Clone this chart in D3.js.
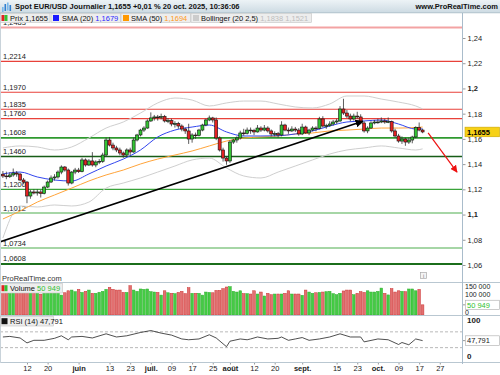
<!DOCTYPE html>
<html><head><meta charset="utf-8">
<script src="https://cdn.jsdelivr.net/npm/d3@7"></script>
<style>body{margin:0;background:#fff}svg{display:block;font-family:"Liberation Sans",Arial,sans-serif}</style>
</head><body><svg id="c" width="500" height="375"></svg>
<script>
// ---------- DATA ----------
// daily candles, one per trading day from 1 May 2025 (index 0) : [open, high, low, close]
const candles = [
[1.1320,1.1345,1.1290,1.1306],[1.1306,1.1340,1.1280,1.1300],[1.1300,1.1335,1.1290,1.1314],[1.1314,1.1365,1.1300,1.1329],
[1.1329,1.1345,1.1300,1.1321],[1.1321,1.1330,1.1265,1.1274],[1.1274,1.1290,1.1240,1.1258],[1.1258,1.1265,1.1090,1.1147],
[1.1147,1.1195,1.1125,1.1179],[1.1179,1.1200,1.1160,1.1171],[1.1171,1.1200,1.1150,1.1179],[1.1179,1.1195,1.1135,1.1168],
[1.1168,1.1230,1.1160,1.1218],[1.1218,1.1270,1.1210,1.1258],[1.1258,1.1310,1.1250,1.1290],[1.1290,1.1320,1.1270,1.1298],
[1.1298,1.1350,1.1285,1.1337],[1.1337,1.1390,1.1320,1.1377],[1.1377,1.1385,1.1340,1.1353],[1.1353,1.1365,1.1230,1.1250],
[1.1250,1.1345,1.1240,1.1337],[1.1337,1.1370,1.1320,1.1353],[1.1353,1.1370,1.1330,1.1340],[1.1340,1.1450,1.1335,1.1433],
[1.1433,1.1445,1.1380,1.1393],[1.1393,1.1440,1.1385,1.1425],[1.1425,1.1495,1.1380,1.1393],[1.1393,1.1430,1.1375,1.1417],
[1.1417,1.1440,1.1400,1.1422],[1.1422,1.1490,1.1410,1.1472],[1.1472,1.1610,1.1465,1.1591],[1.1591,1.1615,1.1540,1.1551],
[1.1551,1.1570,1.1510,1.1528],[1.1528,1.1545,1.1495,1.1512],[1.1512,1.1530,1.1470,1.1488],[1.1488,1.1500,1.1450,1.1472],
[1.1472,1.1525,1.1460,1.1512],[1.1512,1.1530,1.1470,1.1496],[1.1496,1.1610,1.1490,1.1591],[1.1591,1.1640,1.1580,1.1631],
[1.1631,1.1680,1.1620,1.1670],[1.1670,1.1700,1.1655,1.1686],[1.1686,1.1755,1.1680,1.1742],[1.1742,1.1810,1.1735,1.1766],
[1.1766,1.1790,1.1745,1.1774],[1.1774,1.1790,1.1745,1.1770],[1.1770,1.1800,1.1755,1.1778],[1.1778,1.1790,1.1730,1.1742],
[1.1742,1.1765,1.1725,1.1745],[1.1745,1.1760,1.1700,1.1718],[1.1718,1.1740,1.1690,1.1722],[1.1722,1.1735,1.1680,1.1702],
[1.1702,1.1715,1.1660,1.1678],[1.1678,1.1690,1.1640,1.1663],[1.1663,1.1720,1.1560,1.1599],[1.1599,1.1645,1.1570,1.1631],
[1.1631,1.1650,1.1600,1.1628],[1.1628,1.1680,1.1620,1.1670],[1.1670,1.1720,1.1660,1.1710],[1.1710,1.1760,1.1700,1.1750],
[1.1750,1.1785,1.1740,1.1766],[1.1766,1.1775,1.1730,1.1750],[1.1750,1.1770,1.1590,1.1607],[1.1607,1.1620,1.1500,1.1512],
[1.1512,1.1530,1.1420,1.1448],[1.1448,1.1460,1.1395,1.1425],[1.1425,1.1590,1.1410,1.1575],[1.1575,1.1600,1.1560,1.1591],
[1.1591,1.1620,1.1570,1.1607],[1.1607,1.1665,1.1595,1.1647],[1.1647,1.1680,1.1625,1.1644],[1.1644,1.1690,1.1635,1.1670],
[1.1670,1.1690,1.1640,1.1668],[1.1668,1.1680,1.1630,1.1655],[1.1655,1.1710,1.1650,1.1686],[1.1686,1.1700,1.1655,1.1670],
[1.1670,1.1710,1.1660,1.1686],[1.1686,1.1700,1.1650,1.1663],[1.1663,1.1675,1.1620,1.1639],[1.1639,1.1660,1.1620,1.1642],
[1.1642,1.1655,1.1610,1.1631],[1.1631,1.1740,1.1620,1.1710],[1.1710,1.1720,1.1660,1.1670],[1.1670,1.1690,1.1640,1.1663],
[1.1663,1.1700,1.1655,1.1678],[1.1678,1.1695,1.1655,1.1670],[1.1670,1.1685,1.1625,1.1639],[1.1639,1.1720,1.1630,1.1694],
[1.1694,1.1705,1.1640,1.1647],[1.1647,1.1680,1.1630,1.1670],[1.1670,1.1700,1.1660,1.1686],[1.1686,1.1700,1.1660,1.1683],
[1.1683,1.1775,1.1675,1.1758],[1.1758,1.1780,1.1690,1.1702],[1.1702,1.1720,1.1680,1.1705],[1.1705,1.1740,1.1695,1.1718],
[1.1718,1.1750,1.1705,1.1734],[1.1734,1.1760,1.1720,1.1742],[1.1742,1.1860,1.1735,1.1837],[1.1837,1.1918,1.1790,1.1805],
[1.1805,1.1830,1.1765,1.1781],[1.1781,1.1800,1.1740,1.1758],[1.1758,1.1800,1.1745,1.1781],[1.1781,1.1815,1.1760,1.1774],
[1.1774,1.1795,1.1715,1.1726],[1.1726,1.1740,1.1650,1.1663],[1.1663,1.1700,1.1645,1.1686],[1.1686,1.1740,1.1680,1.1726],
[1.1726,1.1750,1.1715,1.1734],[1.1730,1.1760,1.1720,1.1734],[1.1734,1.1770,1.1725,1.1742],[1.1742,1.1760,1.1720,1.1734],
[1.1734,1.1770,1.1725,1.1737],[1.1737,1.1745,1.1650,1.1663],[1.1663,1.1680,1.1610,1.1623],[1.1623,1.1640,1.1570,1.1583],
[1.1583,1.1620,1.1560,1.1599],[1.1599,1.1610,1.1545,1.1575],[1.1575,1.1610,1.1560,1.1591],[1.1591,1.1625,1.1565,1.1615],
[1.1615,1.1700,1.1605,1.1690],[1.1690,1.1730,1.1660,1.1670],[1.1670,1.1680,1.1645,1.1655]
];
const volumes = [
120000,128000,115000,122000,118000,130000,135000,150000,125000,118000,122000,110000,128000,135000,120000,118000,125000,
105000,118000,129000,133000,124000,137000,120000,126000,133000,115000,115000,121000,126000,137000,148000,137000,133000,133000,
120000,120000,157000,133000,126000,139000,137000,139000,124000,122000,120000,105000,129000,118000,115000,113000,120000,126000,
113000,146000,115000,115000,115000,105000,122000,120000,118000,131000,131000,141000,150000,152000,126000,122000,129000,113000,
113000,
111000,129000,111000,122000,100000,115000,107000,111000,111000,111000,115000,129000,111000,111000,111000,104000,133000,122000,
115000,118000,120000,122000,124000,126000,113000,107000,115000,128000,133000,133000,107000,115000,124000,120000,129000,122000,
122000,126000,144000,115000,106000,141000,122000,129000,126000,124000,139000,139000,129000,137000,50949
];
// indicator readings at these day indices
const sampleDays = [0,5,10,15,20,25,30,35,40,45,50,55,60,65,70,75,80,85,90,95,100,105,110,115,120,122];
const sma20 = [1.1322,1.1337,1.1298,1.1274,1.1266,1.1322,1.1385,1.1440,1.1512,1.1615,1.1670,1.1694,1.1710,1.1655,1.1623,1.1623,1.1625,1.1639,1.1663,1.1702,1.1734,1.1742,1.1750,1.1718,1.1678,1.1679];
const sma50 = [1.0965,1.1028,1.1099,1.1155,1.1210,1.1266,1.1314,1.1353,1.1401,1.1440,1.1472,1.1504,1.1544,1.1583,1.1607,1.1615,1.1623,1.1639,1.1647,1.1663,1.1670,1.1678,1.1686,1.1686,1.1690,1.1694];
const bollUp = [1.1528,1.1544,1.1536,1.1512,1.1536,1.1607,1.1686,1.1734,1.1805,1.1885,1.1924,1.1908,1.1861,1.1885,1.1900,1.1900,1.1877,1.1853,1.1845,1.1877,1.1940,1.1940,1.1916,1.1892,1.1861,1.1838];
const bollLow = [1.0814,1.1068,1.1060,1.1076,1.1068,1.1099,1.1210,1.1250,1.1290,1.1337,1.1385,1.1433,1.1448,1.1369,1.1306,1.1290,1.1337,1.1385,1.1433,1.1480,1.1512,1.1528,1.1544,1.1528,1.1512,1.1521];
const rsiDays = [0,2,5,7,9,12,15,17,19,20,23,26,30,33,36,40,43,46,49,52,54,57,60,62,65,66,69,71,72,74,77,80,81,83,85,87,89,92,95,98,101,104,105,109,112,115,116,118,120,122];
const rsiValues = [57,58.5,54.5,42,48.6,48.6,53.6,60,50,57,58.5,54.5,65,57,60,68.4,73.3,66.8,61.8,52,50,52,62.6,54.5,32.4,46.3,52,50,52,57,52,53.6,57,48.6,52,55.6,48.6,52,57,65,57,57,44.6,52,50,38,43,37.3,52,47.791];
// horizontal levels
const levels = [1.2483,1.2214,1.1970,1.1835,1.1760,1.1608,1.1460,1.1200,1.1012,1.0734,1.0608];
// trend line and arrow [day index, price]
const trendLine = [[-1,1.0782],[104.6,1.1740]];
const downArrow = [[123.6,1.1647],[132.0,1.1337]];
// axes
const priceTicks = [1.24,1.22,1.20,1.18,1.16,1.14,1.12,1.10,1.08,1.06];
const dateTickDays = [7,13,22,31,37,43,49,55,61,66,73,79,87,97,103,109,115,121,127];
const dateTickLabels = ["12","20","juin","13","23","juil.","09","17","25","août","12","20","sept.","15","23","oct.","09","17","27"];
const volTicks = [0,100000,150000];
const lastPrice = 1.1655, lastSma20 = 1.1679, lastSma50 = 1.1694, lastVol = 50949, lastRsi = 47.791;
const bollLast = [1.1838,1.1521];

// ---------- STYLES ----------
const levelStyles = [
 {c:"#f3a3a3",w:2},{c:"#e8413a",w:1.2},{c:"#e8413a",w:1.2},{c:"#e8413a",w:1.2},{c:"#e8413a",w:1.2},
 {c:"#2f9a2f",w:1.6},{c:"#175d17",w:1.4},{c:"#3aa33a",w:1.2},{c:"#a6d6a6",w:2},{c:"#a6d6a6",w:2},{c:"#1b6e1b",w:2.2}
];
const svg = d3.select("#c");
const fmt4 = v => d3.format(".4f")(v).replace(".",",");
const FS = 7.5;

const x = d3.scaleLinear().domain([0,127]).range([2.9,439.8]);
const y = d3.scaleLinear().domain([1.06,1.24]).range([265,38]);
const yv = d3.scaleLinear().domain([0,150000]).range([314,287]);
const yr = d3.scaleLinear().domain([0,100]).range([359.5,320]);
const AX = 462.5;

const defs = svg.append("defs");
const g1 = defs.append("linearGradient").attr("id","hdr").attr("x1",0).attr("y1",0).attr("x2",0).attr("y2",1);
g1.append("stop").attr("offset","0%").attr("stop-color","#edf3f6");
g1.append("stop").attr("offset","100%").attr("stop-color","#cddbe3");
defs.append("clipPath").attr("id","mainClip").append("rect").attr("x",0).attr("y",22.5).attr("width",462).attr("height",260);
defs.append("clipPath").attr("id","volClip").append("rect").attr("x",0).attr("y",283).attr("width",462).attr("height",32);
defs.append("clipPath").attr("id","rsiClip").append("rect").attr("x",0).attr("y",316).attr("width",462).attr("height",46);
defs.append("marker").attr("id","arrBlack").attr("viewBox","0 0 10 10").attr("refX",9).attr("refY",5)
  .attr("markerWidth",5).attr("markerHeight",5).attr("orient","auto").attr("markerUnits","strokeWidth")
  .append("path").attr("d","M0,0L10,5L0,10z").attr("fill","#000");
defs.append("marker").attr("id","arrRed").attr("viewBox","0 0 10 10").attr("refX",9).attr("refY",5)
  .attr("markerWidth",6).attr("markerHeight",6).attr("orient","auto").attr("markerUnits","strokeWidth")
  .append("path").attr("d","M0,0L10,5L0,10z").attr("fill","#ee1111");

// ---------- MAIN PANEL ----------
const main = svg.append("g").attr("clip-path","url(#mainClip)");
main.selectAll("text.lvl").data(levels).join("text")
  .attr("x",3).attr("y",d=>y(d)-2.5).attr("font-size",FS).attr("fill","#222").text(d=>fmt4(d));
main.selectAll("line.lvl").data(levels).join("line")
  .attr("x1",0).attr("x2",462).attr("y1",d=>y(d)).attr("y2",d=>y(d))
  .attr("stroke",(d,i)=>levelStyles[i].c).attr("stroke-width",(d,i)=>levelStyles[i].w);

const lineOf = vals => d3.line().x((d,i)=>x(sampleDays[i])).y(d=>y(d)).curve(d3.curveMonotoneX)(vals);
main.append("path").attr("d",lineOf(bollUp)).attr("fill","none").attr("stroke","#cfcfcf").attr("stroke-width",1);
main.append("path").attr("d",lineOf(bollLow)).attr("fill","none").attr("stroke","#cfcfcf").attr("stroke-width",1);
main.append("path").attr("d",lineOf(sma50)).attr("fill","none").attr("stroke","#ffa43a").attr("stroke-width",1);
main.append("path").attr("d",lineOf(sma20)).attr("fill","none").attr("stroke","#3346ee").attr("stroke-width",1);

const cg = main.append("g");
cg.selectAll("line.w").data(candles).join("line")
  .attr("x1",(d,i)=>x(i)).attr("x2",(d,i)=>x(i)).attr("y1",d=>y(d[1])).attr("y2",d=>y(d[2]))
  .attr("stroke","#333").attr("stroke-width",0.8);
cg.selectAll("rect").data(candles).join("rect")
  .attr("x",(d,i)=>x(i)-1.5).attr("width",3)
  .attr("y",d=>y(Math.max(d[0],d[3])))
  .attr("height",d=>Math.max(0.8,Math.abs(y(d[0])-y(d[3]))))
  .attr("fill",d=>d[3]>=d[0]?"#33c433":"#e42222").attr("stroke","#111").attr("stroke-width",0.6);

main.append("line").attr("x1",x(trendLine[0][0])).attr("y1",y(trendLine[0][1]))
  .attr("x2",x(trendLine[1][0])).attr("y2",y(trendLine[1][1]))
  .attr("stroke","#000").attr("stroke-width",1.6).attr("marker-end","url(#arrBlack)");
svg.append("line").attr("x1",x(downArrow[0][0])).attr("y1",y(downArrow[0][1]))
  .attr("x2",x(downArrow[1][0])).attr("y2",y(downArrow[1][1]))
  .attr("stroke","#ee1111").attr("stroke-width",1.2).attr("marker-end","url(#arrRed)");

svg.append("text").attr("x",2).attr("y",280.5).attr("font-size",FS).attr("fill","#333").text("ProRealTime.com");
svg.append("rect").attr("x",420.5).attr("y",272.5).attr("width",6).attr("height",6).attr("fill","#f4f4f4").attr("stroke","#aaa").attr("stroke-width",0.7);
svg.append("text").attr("x",423.5).attr("y",277.8).attr("font-size",5.5).attr("text-anchor","middle").attr("fill","#777").text("i");

// price axis
const pa = svg.append("g").attr("transform",`translate(${AX},0)`)
  .call(d3.axisRight(y).tickValues(priceTicks).tickSize(3).tickPadding(2)
    .tickFormat(d=>d3.format(".2~f")(d).replace(".",",")));
pa.select(".domain").remove();
pa.selectAll("line").attr("stroke","#999");
pa.selectAll("text").attr("font-size",FS).attr("font-family","Liberation Sans, Arial, sans-serif").attr("fill","#222")
  .attr("font-weight",d=>(Math.abs(d*10-Math.round(d*10))<1e-6)?"bold":"normal");
svg.append("rect").attr("x",465).attr("y",y(lastPrice)-4.8).attr("width",34.5).attr("height",9.6)
  .attr("fill","#f7d117").attr("stroke","#c9a400").attr("stroke-width",0.6);
svg.append("text").attr("x",467).attr("y",y(lastPrice)+2.8).attr("font-size",FS).attr("font-weight","bold").attr("fill","#000").text(fmt4(lastPrice));

// ---------- VOLUME PANEL ----------
const vg = svg.append("g").attr("clip-path","url(#volClip)");
vg.selectAll("rect").data(volumes).join("rect")
  .attr("x",(d,i)=>x(i)-1.3).attr("width",2.6)
  .attr("y",d=>yv(d)).attr("height",d=>yv(0)-yv(d)+1)
  .attr("fill",(d,i)=>candles[i][3]>=candles[i][0]?"#44cc44":"#e27070")
  .attr("stroke",(d,i)=>candles[i][3]>=candles[i][0]?"#2fae2f":"#cc3333").attr("stroke-width",0.5);
const fmtVol = v => d3.format(",")(v).replace(/,/g," ");
const volLabelY = [312,294.5,286];
svg.selectAll("text.vt").data(volTicks).join("text")
  .attr("x",465).attr("y",(d,i)=>volLabelY[i]+2.7).attr("font-size",7).attr("fill","#222").text(d=>fmtVol(d));
svg.append("line").attr("x1",AX).attr("x2",AX+3).attr("y1",yv(lastVol)).attr("y2",yv(lastVol)).attr("stroke","#999");
svg.append("rect").attr("x",465.5).attr("y",yv(lastVol)-4.6).attr("width",34).attr("height",9.2)
  .attr("fill","#fff").attr("stroke","#aaa").attr("stroke-width",0.6);
svg.append("text").attr("x",467).attr("y",yv(lastVol)+2.8).attr("font-size",FS).attr("fill","#2fbf2f").text(fmtVol(lastVol));

// ---------- RSI PANEL ----------
const rg = svg.append("g").attr("clip-path","url(#rsiClip)");
[70,30].forEach(v=>rg.append("line").attr("x1",0).attr("x2",462).attr("y1",yr(v)).attr("y2",yr(v))
  .attr("stroke","#999").attr("stroke-width",0.7).attr("stroke-dasharray","3,2"));
rg.append("path").attr("d",d3.line().x((d,i)=>x(rsiDays[i])).y(d=>yr(d))(rsiValues))
  .attr("fill","none").attr("stroke","#222").attr("stroke-width",0.8);
[[100,322.5],[0,359]].forEach(([v,ty])=>svg.append("text").attr("x",467).attr("y",ty).attr("font-size",FS+0.5)
  .attr("font-weight","bold").attr("fill","#222").text(v));
svg.append("line").attr("x1",AX).attr("x2",AX+3).attr("y1",yr(lastRsi)).attr("y2",yr(lastRsi)).attr("stroke","#999");
svg.append("rect").attr("x",465.5).attr("y",yr(lastRsi)-4.8).attr("width",34).attr("height",9.6)
  .attr("fill","#fff").attr("stroke","#aaa").attr("stroke-width",0.6);
svg.append("text").attr("x",467).attr("y",yr(lastRsi)+2.8).attr("font-size",FS).attr("fill","#222").text(d3.format(".3f")(lastRsi).replace(".",","));

// ---------- DATE AXIS ----------
const da = svg.append("g").attr("transform","translate(0,362.5)")
  .call(d3.axisBottom(x).tickValues(dateTickDays).tickSize(2).tickPadding(1.5)
    .tickFormat((d,i)=>dateTickLabels[i]));
da.select(".domain").remove();
da.selectAll("line").attr("stroke","#999");
da.selectAll("text").attr("font-size",FS).attr("font-family","Liberation Sans, Arial, sans-serif").attr("fill","#222")
  .attr("font-weight",(d,i)=>/^\d+$/.test(dateTickLabels[i])?"normal":"bold");

// ---------- FRAME ----------
[282.5,315.5,362.5].forEach(yy=>svg.append("line").attr("x1",0).attr("x2",500).attr("y1",yy).attr("y2",yy).attr("stroke","#b9c7d1").attr("stroke-width",1));
svg.append("line").attr("x1",AX).attr("x2",AX).attr("y1",13).attr("y2",364).attr("stroke","#a9bccb");
svg.append("line").attr("x1",0.5).attr("x2",0.5).attr("y1",13).attr("y2",363).attr("stroke","#c9d3da");

// ---------- HEADER ----------
svg.append("rect").attr("x",0).attr("y",0).attr("width",500).attr("height",12.5).attr("fill","url(#hdr)");
svg.append("line").attr("x1",0).attr("x2",500).attr("y1",12.75).attr("y2",12.75).attr("stroke","#9db2c0").attr("stroke-width",0.8);
const ic = svg.append("g");
[[2,6,3],[4.5,3,5],[7,1.5,6],[9.5,4,4]].forEach(([ix,iy,ih],k)=>ic.append("rect").attr("x",ix).attr("y",iy+1).attr("width",1.6).attr("height",ih+2)
  .attr("fill",k%2?"#2f7fd0":"#7ab8ea"));
svg.append("text").attr("x",15).attr("y",9.3).attr("font-size",FS).attr("font-weight","bold").attr("fill","#111")
  .text("Spot EUR/USD Journalier "+fmt4(lastPrice)+" +0,01 % 20 oct. 2025, 10:36:06");
svg.append("text").attr("x",498).attr("y",9.3).attr("text-anchor","end").attr("font-size",FS).attr("font-weight","bold").attr("fill","#111")
  .text("www.ProRealTime.com");

const legendBoxes = [[0.5,50],[51,120.5],[121,190.5],[191,311.5]];
legendBoxes.forEach(([a,b])=>svg.append("rect").attr("x",a).attr("y",13.5).attr("width",b-a).attr("height",9)
  .attr("fill","#ededed").attr("stroke","#c4c4c4").attr("stroke-width",0.6));
function sq(g,xx,yy,cols){cols.forEach((c,k)=>g.append("rect").attr("x",xx+k*6/cols.length).attr("y",yy).attr("width",6/cols.length).attr("height",6).attr("fill",c));}
sq(svg,1.5,15,["#e42222","#33c433"]);
sq(svg,53,15,["#1a1aff"]);
sq(svg,123,15,["#ff9900"]);
sq(svg,193,15,["#cccccc"]);
function legText(xx,yy,parts){const t=svg.append("text").attr("x",xx).attr("y",yy).attr("font-size",FS);
  parts.forEach(([s,c])=>t.append("tspan").attr("fill",c).text(s));}
legText(10,20.6,[["Prix ","#111"],[fmt4(lastPrice),"#111"]]);
legText(62,20.6,[["SMA (20) ","#111"],[fmt4(lastSma20),"#2a2aff"]]);
legText(131,20.6,[["SMA (50) ","#111"],[fmt4(lastSma50),"#ff9a1a"]]);
legText(201,20.6,[["Bollinger (20 2,5) ","#111"],[fmt4(bollLast[0])+" "+fmt4(bollLast[1]),"#bdbdbd"]]);

svg.append("rect").attr("x",0.5).attr("y",283.5).attr("width",62).attr("height",9.5).attr("fill","#ededed").attr("stroke","#c4c4c4").attr("stroke-width",0.6);
sq(svg,1.5,285.2,["#e42222","#33c433"]);
legText(10,291,[["Volume ","#111"],[fmtVol(lastVol),"#2fbf2f"]]);
svg.append("rect").attr("x",0.5).attr("y",316.5).attr("width",53).attr("height",9.5).attr("fill","#ededed").attr("stroke","#c4c4c4").attr("stroke-width",0.6);
sq(svg,1.5,318.2,["#111"]);
legText(10,324,[["RSI (14) ","#111"],[d3.format(".3f")(lastRsi).replace(".",","),"#111"]]);
</script></body></html>
